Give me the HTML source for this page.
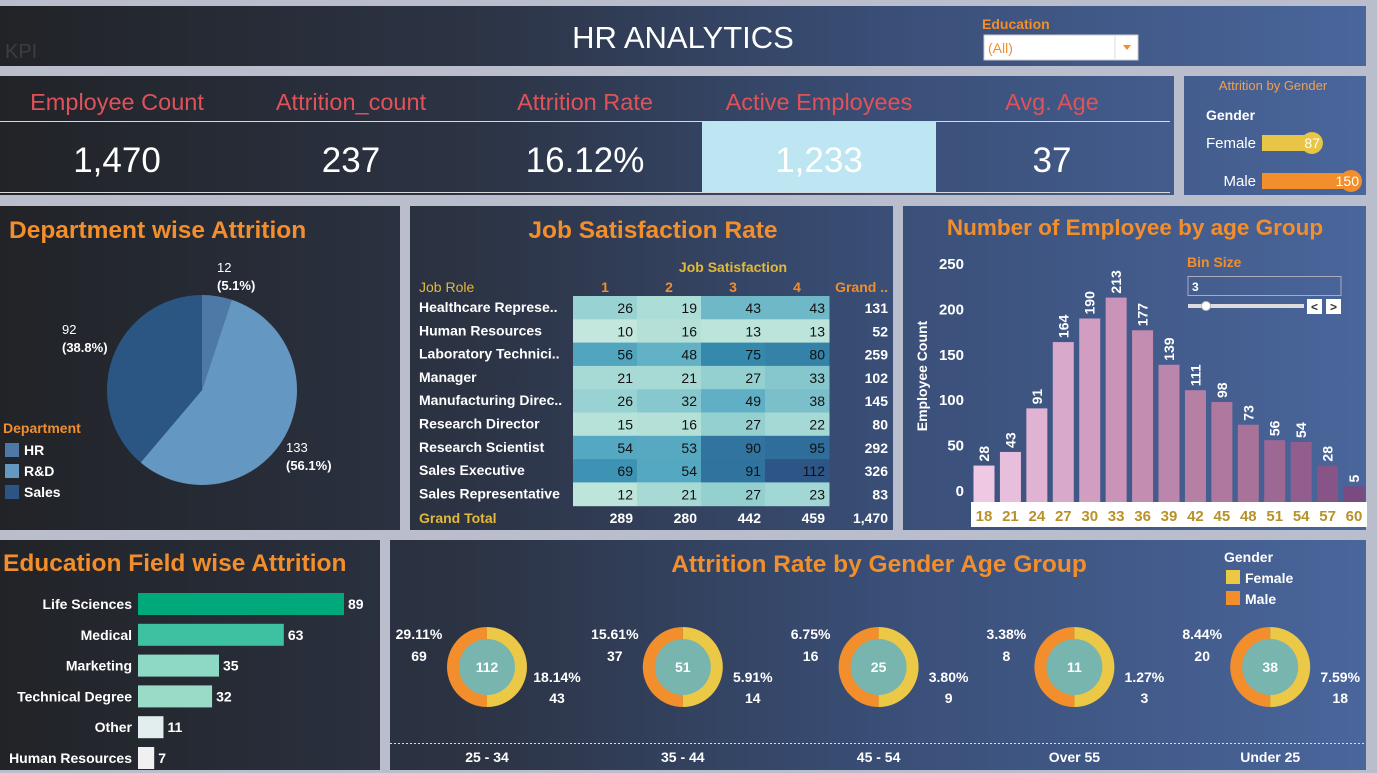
<!DOCTYPE html>
<html><head><meta charset="utf-8"><style>
html,body{margin:0;padding:0;background:#b9bdcc;}
svg{display:block;font-family:"Liberation Sans",sans-serif;}
</style></head><body>
<svg id="dash" width="1377" height="773" viewBox="0 0 1377 773" xmlns="http://www.w3.org/2000/svg">
<defs>
<linearGradient id="bg" gradientUnits="userSpaceOnUse" x1="0" y1="0" x2="1377" y2="0">
<stop offset="0" stop-color="#212327"/><stop offset="0.35" stop-color="#2c3445"/><stop offset="0.65" stop-color="#3a4f78"/><stop offset="1" stop-color="#4a669c"/>
</linearGradient>
</defs>
<rect x="0" y="0" width="1377" height="773" fill="#b9bdcc"/>
<rect x="0" y="6" width="1366" height="60" fill="url(#bg)"/>
<rect x="0" y="76" width="1174" height="119" fill="url(#bg)"/>
<rect x="1184" y="76" width="182" height="119" fill="url(#bg)"/>
<rect x="0" y="206" width="400" height="324" fill="url(#bg)"/>
<rect x="410" y="206" width="483" height="324" fill="url(#bg)"/>
<rect x="903" y="206" width="463" height="324" fill="url(#bg)"/>
<rect x="0" y="540" width="380" height="230" fill="url(#bg)"/>
<rect x="390" y="540" width="976" height="230" fill="url(#bg)"/>

<!-- header -->
<text x="5" y="58" font-size="20" fill="#3a3d44">KPI</text>
<text x="683" y="48" font-size="31" fill="#fff" text-anchor="middle">HR ANALYTICS</text>
<text x="982" y="29" font-size="14" font-weight="bold" fill="#f28e2b">Education</text>
<g>
<rect x="984" y="35" width="154" height="25" fill="#fff" stroke="#ccc"/>
<line x1="1115" y1="36" x2="1115" y2="59" stroke="#ddd"/>
<text x="988" y="53" font-size="14" fill="#f28e2b">(All)</text>
<polygon points="1123,45 1131,45 1127,50" fill="#f28e2b"/>
</g>

<!-- KPIs -->
<g font-size="23.5" fill="#e0525a" text-anchor="middle">
<text x="117" y="110">Employee Count</text>
<text x="351" y="110">Attrition_count</text>
<text x="585" y="110">Attrition Rate</text>
<text x="819" y="110">Active Employees</text>
<text x="1052" y="110">Avg. Age</text>
</g>
<line x1="0" y1="121.5" x2="1170" y2="121.5" stroke="#d8d8d8"/>
<rect x="702" y="122" width="234" height="70" fill="#bde5f2"/>
<line x1="0" y1="192.5" x2="1170" y2="192.5" stroke="#d8d8d8"/>
<g font-size="35" fill="#fff" text-anchor="middle">
<text x="117" y="172">1,470</text>
<text x="351" y="172">237</text>
<text x="585" y="172">16.12%</text>
<text x="819" y="172">1,233</text>
<text x="1052" y="172">37</text>
</g>

<!-- gender panel -->
<text x="1273" y="90" font-size="13" fill="#f0a050" text-anchor="middle">Attrition by Gender</text>
<text x="1206" y="120" font-size="14" font-weight="bold" fill="#fff">Gender</text>
<g id="genderBars"></g>

<!-- department -->
<text x="9" y="238" font-size="24.5" font-weight="bold" fill="#f28e2b">Department wise Attrition</text>
<g id="pie"></g>
<text x="3" y="433" font-size="14" font-weight="bold" fill="#f28e2b">Department</text>
<g id="pieLegend"></g>

<!-- job satisfaction -->
<text x="653" y="238" font-size="24.5" font-weight="bold" fill="#f28e2b" text-anchor="middle">Job Satisfaction Rate</text>
<text x="733" y="272" font-size="14" font-weight="bold" fill="#e3b93a" text-anchor="middle">Job Satisfaction</text>
<text x="419" y="292" font-size="14" fill="#e3b93a">Job Role</text>
<text x="888" y="292" font-size="14" font-weight="bold" fill="#f28e2b" text-anchor="end">Grand ..</text>
<text x="419" y="523" font-size="14" font-weight="bold" fill="#e3b93a">Grand Total</text>
<g id="heat"></g>

<!-- age histogram -->
<text x="1135" y="235" font-size="22.5" font-weight="bold" fill="#f28e2b" text-anchor="middle">Number of Employee by age Group</text>
<text x="0" y="0" font-size="14" font-weight="bold" fill="#fff" text-anchor="middle" transform="translate(927,376) rotate(-90)">Employee Count</text>
<rect x="971" y="502" width="396" height="25" fill="#fff"/>
<g id="hist"></g>
<text x="1187" y="267" font-size="14" font-weight="bold" fill="#f28e2b">Bin Size</text>
<g>
<rect x="1188" y="276.5" width="153" height="19" fill="none" stroke="#aab"/>
<text x="1192" y="291" font-size="12" font-weight="bold" fill="#fff">3</text>
</g>
<g>
<rect x="1188" y="304" width="116" height="4" fill="#ddd"/>
<circle cx="1206" cy="306" r="4.5" fill="#fff" stroke="#bbb"/>
</g>
<g><rect x="1307" y="299" width="15" height="15" fill="#fff"/><text x="1314.5" y="311" font-size="12" font-weight="bold" fill="#333" text-anchor="middle">&lt;</text></g>
<g><rect x="1326" y="299" width="15" height="15" fill="#fff"/><text x="1333.5" y="311" font-size="12" font-weight="bold" fill="#333" text-anchor="middle">&gt;</text></g>

<!-- education -->
<text x="3" y="571" font-size="24.5" font-weight="bold" fill="#f28e2b">Education Field wise Attrition</text>
<g id="edu"></g>

<!-- attrition by gender age group -->
<text x="879" y="572" font-size="24.5" font-weight="bold" fill="#f28e2b" text-anchor="middle">Attrition Rate by Gender Age Group</text>
<text x="1224" y="562" font-size="14" font-weight="bold" fill="#fff">Gender</text>
<rect x="1226" y="570" width="14" height="14" fill="#ecc847"/>
<text x="1245" y="583" font-size="14" font-weight="bold" fill="#fff">Female</text>
<rect x="1226" y="591" width="14" height="14" fill="#f28e2b"/>
<text x="1245" y="604" font-size="14" font-weight="bold" fill="#fff">Male</text>
<line x1="390" y1="743.5" x2="1366" y2="743.5" stroke="#ddd" stroke-dasharray="2,2"/>
<g id="donuts"></g>
</svg>
<script>
// ---- data ----
const genderNames = ['Female','Male'];
const genderAttrition = [87,150];
const deptNames = ['HR','R&D','Sales'];
const deptValues = [12,133,92];
const jobRoles = ['Healthcare Represe..','Human Resources','Laboratory Technici..','Manager','Manufacturing Direc..','Research Director','Research Scientist','Sales Executive','Sales Representative'];
const satLevels = ['1','2','3','4'];
const sat1 = [26,10,56,21,26,15,54,69,12];
const sat2 = [19,16,48,21,32,16,53,54,21];
const sat3 = [43,13,75,27,49,27,90,91,27];
const sat4 = [43,13,80,33,38,22,95,112,23];
const ageBins = [18,21,24,27,30,33,36,39,42,45,48,51,54,57,60];
const ageCounts = [28,43,91,164,190,213,177,139,111,98,73,56,54,28,5];
const ageTicks = [0,50,100,150,200,250];
const eduFields = ['Life Sciences','Medical','Marketing','Technical Degree','Other','Human Resources'];
const eduValues = [89,63,35,32,11,7];
const ageGroups = ['25 - 34','35 - 44','45 - 54','Over 55','Under 25'];
const maleAttr = [69,37,16,8,20];
const femaleAttr = [43,14,9,3,18];
const totalAttrition = 237;

const NS='http://www.w3.org/2000/svg';
function mk(tag, attrs, parent){const e=document.createElementNS(NS,tag);for(const k in attrs)e.setAttribute(k,attrs[k]);parent.appendChild(e);return e;}
function hex(c){return [1,3,5].map(i=>parseInt(c.substr(i,2),16));}
function lerpColor(stops,v){
  if(v<=stops[0][0])return stops[0][1];
  for(let i=1;i<stops.length;i++){if(v<=stops[i][0]){const t=(v-stops[i-1][0])/(stops[i][0]-stops[i-1][0]);const a=hex(stops[i-1][1]),b=hex(stops[i][1]);return 'rgb('+a.map((x,j)=>Math.round(x+(b[j]-x)*t)).join(',')+')';}}
  return stops[stops.length-1][1];
}

// ---- gender bars ----
(function(){
  const g=document.getElementById('genderBars');
  const x0=1262, sc=93/150, ys=[143,181], cols=['#e8c547','#f28e2b'];
  genderNames.forEach((n,i)=>{
    const w=genderAttrition[i]*sc;
    const t=mk('text',{x:1256,y:ys[i]+5,'font-size':15,fill:'#fff','text-anchor':'end'},g);t.textContent=n;
    
    
    const r=mk('rect',{x:x0,y:ys[i]-8,width:w,height:16,fill:cols[i]},g);
    
    
    const c=mk('circle',{cx:x0+w-4,cy:ys[i],r:11,fill:cols[i]},g);
    
    
    const v=mk('text',{x:x0+w+4,y:ys[i]+5,'font-size':14,fill:'#fff','text-anchor':'end'},g);v.textContent=genderAttrition[i];
    
    
  });
})();

// ---- pie ----
(function(){
  const g=document.getElementById('pie'), cx=202, cy=390, r=95;
  const cols=['#4e79a7','#6497c1','#2b5683'];
  const tot=deptValues.reduce((a,b)=>a+b,0);
  let a0=0;
  const labelPos=[[217,272,'start'],[286,452,'start'],[62,334,'start']];
  deptValues.forEach((v,i)=>{
    const a1=a0+v/tot*2*Math.PI;
    const p=(a)=>[cx+r*Math.sin(a),cy-r*Math.cos(a)];
    const s=p(a0),e=p(a1);
    const path=mk('path',{d:`M${cx},${cy}L${s[0]},${s[1]}A${r},${r} 0 ${a1-a0>Math.PI?1:0} 1 ${e[0]},${e[1]}Z`,fill:cols[i]},g);
    
    
    const lp=labelPos[i];
    const t=mk('text',{x:lp[0],y:lp[1],'font-size':13,fill:'#fff'},g);t.textContent=v;
    
    
    const t2=mk('text',{x:lp[0],y:lp[1]+18,'font-size':13,'font-weight':'bold',fill:'#fff'},g);t2.textContent='('+(v/tot*100).toFixed(1)+'%)';
    
    
    a0=a1;
  });
  const lg=document.getElementById('pieLegend');
  deptNames.forEach((n,i)=>{
    const y=443+i*21;
    const sw=mk('rect',{x:5,y:y,width:14,height:14,fill:cols[i]},lg);
    
    
    const t=mk('text',{x:24,y:y+12,'font-size':14,'font-weight':'bold',fill:'#fff'},lg);t.textContent=n;
    
    
  });
})();

// ---- heatmap ----
(function(){
  const g=document.getElementById('heat');
  const cols=[sat1,sat2,sat3,sat4];
  const x0=573, cw=64, y0=296, rh=23.3;
  const stops=[[10,'#c3e7dc'],[20,'#aadcd6'],[30,'#8ccbcf'],[45,'#6ab5c6'],[55,'#52a6c0'],[75,'#3589ad'],[95,'#2f6d9a'],[112,'#2d5687']];
  satLevels.forEach((s,j)=>{
    const t=mk('text',{x:x0+j*cw+32,y:292,'font-size':14,'font-weight':'bold',fill:'#f28e2b','text-anchor':'middle'},g);t.textContent=s;
    
    
  });
  jobRoles.forEach((role,i)=>{
    const y=y0+i*rh;
    const lt=mk('text',{x:419,y:y+16,'font-size':14,'font-weight':'bold',fill:'#fff'},g);lt.textContent=role;
    
    
    let sum=0;
    cols.forEach((c,j)=>{
      const v=c[i];sum+=v;
      const r=mk('rect',{x:x0+j*cw,y:y,width:cw+0.5,height:rh+0.5,fill:lerpColor(stops,v)},g);
      
      
      const t=mk('text',{x:x0+j*cw+60,y:y+17,'font-size':14,fill:'#111','text-anchor':'end'},g);t.textContent=v;
      
      
    });
    const gt=mk('text',{x:888,y:y+17,'font-size':14,'font-weight':'bold',fill:'#fff','text-anchor':'end'},g);gt.textContent=sum;
    
    
  });
  let grand=0;
  cols.forEach((c,j)=>{
    const s=c.reduce((a,b)=>a+b,0);grand+=s;
    const t=mk('text',{x:x0+j*cw+60,y:523,'font-size':14,'font-weight':'bold',fill:'#fff','text-anchor':'end'},g);t.textContent=s;
    
    
  });
  const t=mk('text',{x:888,y:523,'font-size':14,'font-weight':'bold',fill:'#fff','text-anchor':'end'},g);t.textContent=grand.toLocaleString('en-US');
  
  
})();

// ---- histogram ----
(function(){
  const g=document.getElementById('hist');
  const y0=491, pxPer=227/250, xFirst=984, step=26.43, bw=21;
  const yS=v=>y0-v*pxPer;
  ageTicks.forEach(t=>{
    const e=mk('text',{x:964,y:yS(t)+5,'font-size':15,'font-weight':'bold',fill:'#fff','text-anchor':'end'},g);e.textContent=t;
    
    
  });
  ageBins.forEach((b,i)=>{
    const cx=xFirst+i*step, v=ageCounts[i];
    const col=lerpColor([[0,'#efc8e4'],[5,'#c994b8'],[10,'#a97299'],[14,'#7a4a80']],i);
    const r=mk('rect',{x:cx-bw/2,y:yS(v),width:bw,height:v*pxPer+11,fill:col},g);
    
    
    const lbl=mk('text',{x:0,y:0,'font-size':14,'font-weight':'bold',fill:'#fff',transform:`translate(${cx+5},${yS(v)-4}) rotate(-90)`},g);lbl.textContent=v;
    
    
    const xt=mk('text',{x:cx,y:521,'font-size':15,'font-weight':'bold',fill:'#b8912a','text-anchor':'middle'},g);xt.textContent=b;
    
    
  });
})();

// ---- education bars ----
(function(){
  const g=document.getElementById('edu');
  const x0=138, sc=206/89, y0=604, step=30.8, h=22;
  const cols=['#00a97a','#3dc1a0','#8dd9c5','#9adbc8','#e2eeee','#f0f0f0'];
  eduFields.forEach((f,i)=>{
    const y=y0+i*step, w=eduValues[i]*sc;
    const t=mk('text',{x:132,y:y+5,'font-size':14,'font-weight':'bold',fill:'#fff','text-anchor':'end'},g);t.textContent=f;
    
    
    const r=mk('rect',{x:x0,y:y-h/2,width:w,height:h,fill:cols[i]},g);
    
    
    const v=mk('text',{x:x0+w+4,y:y+5,'font-size':14,'font-weight':'bold',fill:'#fff'},g);v.textContent=eduValues[i];
    
    
  });
})();

// ---- donuts ----
(function(){
  const g=document.getElementById('donuts');
  const cy=667, ro=40, ri=28, x0=487, step=195.8;
  ageGroups.forEach((ag,i)=>{
    const cx=x0+i*step;
    const m=maleAttr[i], f=femaleAttr[i], tot=m+f;
    const pm=mk('path',{d:`M${cx},${cy-ro}A${ro},${ro} 0 0 0 ${cx},${cy+ro}Z`,fill:'#f28e2b'},g);
    
    
    const pf=mk('path',{d:`M${cx},${cy-ro}A${ro},${ro} 0 0 1 ${cx},${cy+ro}Z`,fill:'#ecc847'},g);
    
    
    const c=mk('circle',{cx:cx,cy:cy,r:ri,fill:'#77b5ae'},g);
    
    
    const ct=mk('text',{x:cx,y:cy+5,'font-size':14,'font-weight':'bold',fill:'#fff','text-anchor':'middle'},g);ct.textContent=tot;
    
    
    const mp=mk('text',{x:cx-68,y:639,'font-size':14,'font-weight':'bold',fill:'#fff','text-anchor':'middle'},g);mp.textContent=(m/totalAttrition*100).toFixed(2)+'%';
    
    
    const mv=mk('text',{x:cx-68,y:661,'font-size':14,'font-weight':'bold',fill:'#fff','text-anchor':'middle'},g);mv.textContent=m;
    
    
    const fp=mk('text',{x:cx+70,y:682,'font-size':14,'font-weight':'bold',fill:'#fff','text-anchor':'middle'},g);fp.textContent=(f/totalAttrition*100).toFixed(2)+'%';
    
    
    const fv=mk('text',{x:cx+70,y:703,'font-size':14,'font-weight':'bold',fill:'#fff','text-anchor':'middle'},g);fv.textContent=f;
    
    
    const lb=mk('text',{x:cx,y:762,'font-size':14,'font-weight':'bold',fill:'#fff','text-anchor':'middle'},g);lb.textContent=ag;
    
    
  });
})();
</script>
</body></html>
